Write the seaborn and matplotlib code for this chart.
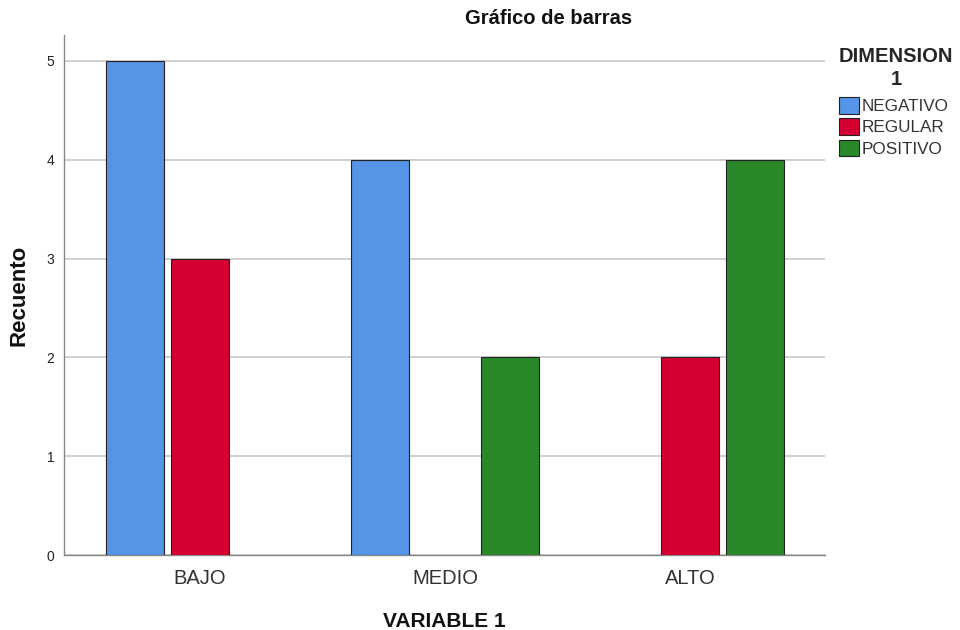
import matplotlib
matplotlib.use("Agg")
import matplotlib.pyplot as plt
import seaborn as sns
import pandas as pd

categories = ["BAJO", "MEDIO", "ALTO"]
series_names = ["NEGATIVO", "REGULAR", "POSITIVO"]
negativo = [5, 4, 0]
regular = [3, 0, 2]
positivo = [0, 2, 4]
colors = ["#5594E6", "#D50032", "#28882A"]

rows = []
for name, vals in zip(series_names, [negativo, regular, positivo]):
    for c, v in zip(categories, vals):
        if v > 0:
            rows.append({"VARIABLE 1": c, "DIMENSION 1": name, "Recuento": v})
df = pd.DataFrame(rows)

sns.set_theme(style="white")
plt.rcParams["font.family"] = ["Liberation Sans", "DejaVu Sans"]

fig = plt.figure(figsize=(9.6, 6.3), dpi=100)
ax = fig.add_axes([0.0667, 0.119, 0.7925, 0.825])

sns.barplot(data=df, x="VARIABLE 1", y="Recuento", hue="DIMENSION 1",
            order=categories, hue_order=series_names, palette=colors,
            width=0.8, gap=0.11, edgecolor="#222222", linewidth=0.8,
            saturation=1, ax=ax, legend=True, zorder=3)

ax.set_xlim(-0.555, 2.55)
ax.set_ylim(0, 5.26)
ax.set_yticks([0, 1, 2, 3, 4, 5])
ax.set_yticklabels(["0", "1", "2", "3", "4", "5"], fontsize=10, color="#222222")
ax.tick_params(axis="x", labelsize=14.5, length=0, pad=10)
ax.tick_params(axis="y", length=0, pad=7)
for lbl in ax.get_xticklabels():
    lbl.set_color("#333333")
ax.yaxis.grid(True, color="#CCCCCC", linewidth=1.3, zorder=0)
ax.xaxis.grid(False)
ax.set_axisbelow(True)
for s in ["top", "right"]:
    ax.spines[s].set_visible(False)
for s in ["left", "bottom"]:
    ax.spines[s].set_color("#888888")
    ax.spines[s].set_linewidth(1.0)

ax.set_xlabel("VARIABLE 1", fontsize=15, fontweight="bold", labelpad=17, color="#111111")
ax.set_ylabel("Recuento", fontsize=16, fontweight="bold", labelpad=12, color="#111111")
fig.text(0.571, 0.970, "Gráfico de barras", ha="center", va="center",
         fontsize=14.5, fontweight="bold", color="#111111")

handles, labels = ax.get_legend_handles_labels()
ax.get_legend().remove()
leg = fig.legend(handles, labels, title="DIMENSION\n1", loc="upper left",
                 bbox_to_anchor=(0.874, 0.925), frameon=False, fontsize=12.3,
                 title_fontsize=14.5, handlelength=1.15, handleheight=1.1,
                 handletextpad=0.15, labelspacing=0.24, borderaxespad=0,
                 borderpad=0)
leg.get_title().set_fontweight("bold")
leg.get_title().set_multialignment("center")
leg.get_title().set_linespacing(1.25)
leg._legend_box.align = "left"
leg._legend_box.sep = 6
for t in leg.get_texts():
    t.set_color("#333333")

fig.savefig("out.png", dpi=100)
